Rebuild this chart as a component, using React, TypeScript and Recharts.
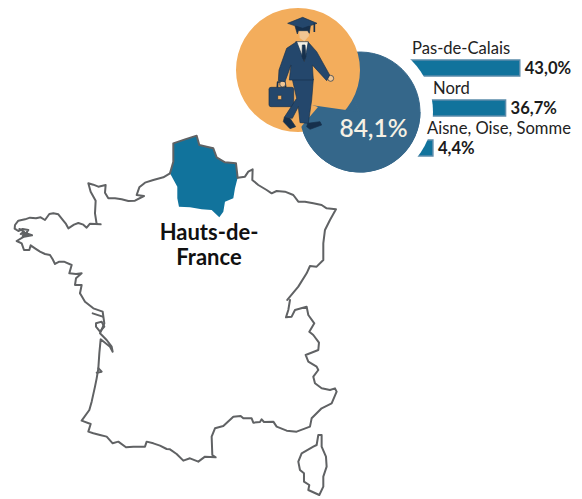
import { BarChart, Bar, XAxis, YAxis, LabelList, PieChart, Pie, Cell, Rectangle } from "recharts"

const WIDTH = 582
const HEIGHT = 499
const FONT = "Lato, sans-serif"

const departements = ["Pas-de-Calais", "Nord", "Aisne, Oise, Somme"]
const shares = [43.0, 36.7, 4.4]
const regionShare = 84.1
const regionName = ["Hauts-de-", "France"]

const BAR_FLOOR = -10
const NAME_X = [412, 433, 427]

const BLUE = "#35678a"
const ORANGE = "#f3ad5c"
const BAR_BLUE = "#11739c"
const BAR_EDGE = "#5b8cab"
const OUTLINE = "#606264"
const NAVY = "#24476c"
const NAVY_DARK = "#16304c"
const SKIN = "#f1c592"

const CENTER = { x: 360, y: 112 }

const barData = departements.map((name, i) => ({ name, value: shares[i], range: [BAR_FLOOR, shares[i]] }))
const pieData = [{ value: regionShare }, { value: 100 - regionShare }]

const pct = (v: number) => `${v.toFixed(1).replace(".", ",")}%`

// outlines traced on the 3x crops, hence the scale(1/3) when drawn
const coastNorthWest = [
  [510, 130], [490, 142], [460, 150], [435, 158], [418, 172], [410, 195], [432, 198], [405, 212], [385, 213], [365, 208], [345, 205], [325, 205],
  [315, 188], [317, 165], [295, 170], [280, 164], [265, 160], [272, 185], [287, 212], [285, 250], [290, 282], [302, 283], [270, 281], [260, 293],
  [250, 284], [235, 279], [222, 284], [205, 295], [198, 282], [190, 272], [175, 253], [160, 250], [148, 252], [135, 270], [122, 262], [108, 265],
  [90, 263], [75, 268], [55, 272], [45, 285], [44, 296], [55, 303], [68, 297], [85, 300], [78, 310], [96, 316], [72, 320], [50, 333], [65, 340],
  [72, 360], [88, 360], [92, 346], [105, 355], [120, 365], [135, 372], [150, 375], [158, 388], [165, 402], [178, 395], [192, 395], [215, 405],
  [208, 430], [228, 432], [245, 430], [228, 445], [225, 465], [245, 465], [240, 490],
]
const brestTangle = [[58, 297], [72, 305], [62, 312], [80, 308], [68, 318], [84, 314]]
const coastSouthWest = [
  [90, -20], [105, 5], [130, 25], [158, 35], [163, 70], [150, 100], [170, 120], [185, 140], [188, 155], [180, 140], [152, 118],
  [148, 160], [145, 205], [140, 235], [135, 260], [125, 305], [118, 330], [95, 362], [122, 372], [115, 395], [130, 400], [150, 405], [170, 410], [188, 430],
  [205, 425], [228, 442], [250, 440], [285, 440], [290, 425], [310, 430], [330, 437], [350, 447], [360, 448], [380, 462], [400, 482], [420, 475], [445, 485], [465, 470],
  [497, 472], [487, 465], [485, 410], [495, 385], [520, 378], [550, 350], [572, 348], [580, 355], [605, 355], [610, 368], [630, 366], [635, 358], [642, 366],
  [670, 365], [680, 380], [710, 392], [740, 395], [780, 380], [785, 355], [815, 325], [845, 310], [860, 275], [855, 265], [840, 270],
  [815, 265], [795, 250], [790, 230], [805, 210], [800, 200], [775, 185], [767, 165], [805, 150], [807, 128], [790, 105], [778, 95],
  [793, 70], [775, 45], [770, 20], [735, 30], [725, 50], [708, 52], [715, 30], [720, 0],
]
const ileDeRe = [[128, 40], [158, 50]]
const oleron = [[138, 70], [155, 65], [163, 80], [150, 95], [138, 80], [138, 70]]
const arcachon = [[145, 205], [155, 215], [140, 218]]
const coastEast = [
  [713, 143], [735, 140], [745, 125], [758, 118], [757, 150], [775, 165], [800, 180], [815, 190], [830, 183], [855, 185], [880, 195],
  [895, 215], [915, 215], [940, 220], [965, 225], [980, 235], [1008, 238], [990, 270], [975, 300], [970, 340], [970, 390], [950, 410],
  [930, 408], [920, 430], [895, 470], [870, 500], [862, 510],
]
const corsica = [
  [805, 405], [815, 405], [815, 440], [828, 470], [830, 500], [820, 530], [820, 560], [808, 585], [775, 570], [778, 555], [762, 545],
  [762, 520], [750, 510], [745, 485], [755, 460], [790, 440], [800, 435], [805, 405],
]
const hautsDeFrance = [
  [520, 40], [555, 28], [590, 17], [598, 45], [620, 50], [640, 55], [650, 82], [675, 97], [708, 100], [713, 143], [705, 175], [700, 205], [675, 215],
  [670, 245], [658, 262], [635, 240], [605, 238], [570, 232], [537, 230], [532, 205], [532, 170], [510, 130], [520, 95],
]
const hautsNorthCoast = [
  [510, 130], [520, 95], [520, 40], [555, 28], [590, 17], [598, 45], [620, 50], [640, 55], [650, 82], [675, 97], [708, 100], [713, 143],
]

const toPoints = (pts: number[][]) => pts.map((p) => p.join(",")).join(" ")

function FranceMap() {
  const line = { fill: "none", stroke: OUTLINE, strokeWidth: 6, strokeLinejoin: "round" as const, strokeLinecap: "round" as const }
  return (
    <g>
      <g transform="translate(0,130) scale(0.3333)">
        <polygon points={toPoints(hautsDeFrance)} fill={BAR_BLUE} />
        <polyline points={toPoints(hautsNorthCoast)} {...line} />
        <polyline points={toPoints(coastNorthWest)} {...line} />
        <polyline points={toPoints(brestTangle)} {...line} />
        <polyline points={toPoints(coastEast)} {...line} />
      </g>
      <g transform="translate(50,300) scale(0.3333)">
        <polyline points={toPoints(coastSouthWest)} {...line} />
        <polyline points={toPoints(ileDeRe)} {...line} />
        <polyline points={toPoints(oleron)} {...line} />
        <polyline points={toPoints(arcachon)} {...line} />
        <polygon points={toPoints(corsica)} {...line} />
      </g>
    </g>
  )
}

function Graduate() {
  return (
    <g transform="translate(255,10) scale(0.3333)" stroke={NAVY_DARK} strokeWidth={2} strokeLinejoin="round">
      <rect x={42} y={232} width={74} height={58} rx={6} fill={NAVY} />
      <path d="M67 232 L68 216 L90 216 L92 232" fill="none" strokeWidth={5} />
      <rect x={68} y={256} width={12} height={13} fill={ORANGE} />
      <path d="M88 322 L105 325 L122 350 L105 356 L85 335 Z" fill={NAVY_DARK} />
      <path d="M158 340 L195 335 L200 345 L165 358 L155 350 Z" fill={NAVY_DARK} />
      <path d="M112 208 L175 208 L170 270 L160 340 L135 338 L130 290 L112 325 L88 322 L125 265 Z" fill={NAVY} />
      <circle cx={83} cy={222} r={9} fill={SKIN} />
      <circle cx={227} cy={205} r={9} fill={SKIN} />
      <path d="M122 95 L160 95 L158 140 L132 140 Z" fill="#f4efe3" />
      <path d="M125 95 L95 115 L72 180 L70 212 L90 215 L108 165 L103 210 L175 210 L172 165 L215 212 L224 195 L185 125 L160 97 L148 155 Z" fill={NAVY} />
      <path d="M142 105 L150 105 L153 140 L147 152 L141 140 Z" fill={NAVY_DARK} />
      <path d="M132 60 L160 60 L162 78 L148 94 L134 84 Z" fill={SKIN} stroke="none" />
      <path d="M120 48 L166 48 L163 70 L158 62 L130 62 L127 72 Z" fill={NAVY_DARK} />
      <path d="M98 40 L143 22 L186 40 L143 55 Z" fill={NAVY} />
      <path d="M178 40 L178 66" fill="none" strokeWidth={5} />
    </g>
  )
}

function DepartementBar(props: any) {
  return (
    <g mask="url(#around-circle)">
      <Rectangle x={props.x} y={props.y} width={props.width} height={props.height} fill={BAR_BLUE} stroke={BAR_EDGE} strokeWidth={1.5} />
    </g>
  )
}

function NameLabel(props: any) {
  return (
    <text x={NAME_X[props.index]} y={props.y - 6} fontFamily={FONT} fontSize={16.6} fill="#222">
      {props.value}
    </text>
  )
}

export default function App() {
  return (
    <div style={{ position: "absolute", left: 0, top: 0, width: WIDTH, height: HEIGHT, background: "#fff", overflow: "hidden" }}>
      <div style={{ position: "absolute", left: 0, top: 0 }}>
        <PieChart width={WIDTH} height={HEIGHT} margin={{ top: 0, right: 0, bottom: 0, left: 0 }}>
          <Pie data={pieData} dataKey="value" cx={CENTER.x} cy={CENTER.y} outerRadius={60} startAngle={172} endAngle={532} stroke={BLUE} strokeWidth={1} isAnimationActive={false}>
            <Cell fill={BLUE} />
            <Cell fill={BLUE} />
          </Pie>
          <Pie data={[{ value: 1 }]} dataKey="value" cx={298} cy={70} outerRadius={62} stroke="none" fill={ORANGE} isAnimationActive={false} />
          <Pie data={[{ value: 1 }]} dataKey="value" cx={CENTER.x} cy={CENTER.y} outerRadius={60.5} startAngle={172} endAngle={360} stroke="none" fill={BLUE} isAnimationActive={false} />
        </PieChart>
      </div>
      <div style={{ position: "absolute", left: 0, top: 0 }}>
        <BarChart width={WIDTH} height={HEIGHT} data={barData} layout="vertical" barSize={16} margin={{ top: 48, right: 24, bottom: 331, left: 400.5 }}>
          <defs>
            <mask id="around-circle" maskUnits="userSpaceOnUse" x={0} y={0} width={WIDTH} height={HEIGHT}>
              <rect x={0} y={0} width={WIDTH} height={HEIGHT} fill="#fff" />
              <circle cx={CENTER.x} cy={CENTER.y} r={73} fill="#000" />
            </mask>
          </defs>
          <XAxis type="number" domain={[BAR_FLOOR, 60]} hide />
          <YAxis type="category" dataKey="name" hide />
          <Bar dataKey="range" shape={DepartementBar} isAnimationActive={false}>
            <LabelList dataKey="name" content={NameLabel} />
            <LabelList dataKey="value" position="right" offset={5} formatter={pct} fill="#1b1b1b" fontFamily={FONT} fontWeight={700} fontSize={16.6} />
          </Bar>
        </BarChart>
      </div>
      <svg width={WIDTH} height={HEIGHT} style={{ position: "absolute", left: 0, top: 0, pointerEvents: "none" }}>
        <polygon points="318,107 298,100 298,127 301,127" fill={ORANGE} />
        <Graduate />
        <text x={373.5} y={137} textAnchor="middle" fontFamily={FONT} fontWeight={600} fontSize={24.5} fill="#f6f1e4">
          {pct(regionShare)}
        </text>
        <FranceMap />
        {regionName.map((line, i) => (
          <text key={line} x={209} y={240 + i * 25} textAnchor="middle" fontFamily={FONT} fontWeight={700} fontSize={22} fill="#111">
            {line}
          </text>
        ))}
      </svg>
    </div>
  )
}
